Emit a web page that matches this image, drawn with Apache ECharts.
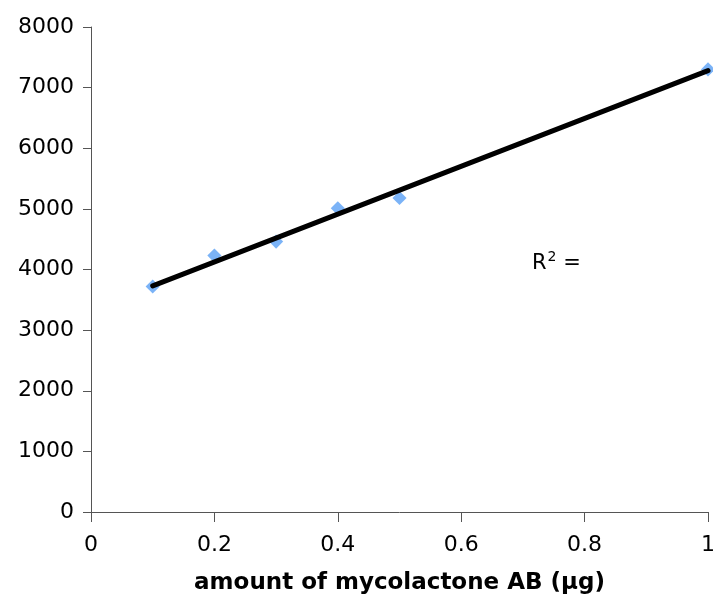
<!DOCTYPE html>
<html>
<head>
<meta charset="utf-8">
<script src="https://cdn.jsdelivr.net/npm/echarts@6/dist/echarts.min.js"></script>
<style>
  html, body { margin: 0; padding: 0; background: #fff; }
  #chart { width: 713px; height: 599px; }
</style>
</head>
<body>
<div id="chart"></div>
<script>
const amounts = [0.1, 0.2, 0.3, 0.4, 0.5, 1.0]
const signal = [3720, 4230, 4460, 5010, 5180, 7300]
// linear trend line end points
const trendX = [0.1, 1.0]
const trendY = [3730, 7280]

const chart = echarts.init(document.getElementById('chart'))
const font = 'DejaVu Sans, Verdana, sans-serif'

chart.setOption({
  backgroundColor: '#fff',
  animation: false,
  grid: { left: 91, right: 5, top: 27, bottom: 87, outerBoundsMode: 'none', containLabel: false },
  xAxis: {
    type: 'value',
    min: 0,
    max: 1,
    interval: 0.2,
    name: 'amount of mycolactone AB (µg)',
    nameLocation: 'middle',
    nameGap: 60,
    nameTextStyle: { fontFamily: font, fontWeight: 'bold', fontSize: 23, color: '#000' },
    axisLine: { lineStyle: { color: '#555', width: 1 } },
    axisTick: { show: true, inside: false, length: 10, lineStyle: { color: '#555' } },
    axisLabel: { margin: 22, fontFamily: font, fontSize: 22, color: '#000', formatter: v => String(v) },
    splitLine: { show: false }
  },
  yAxis: {
    type: 'value',
    min: 0,
    max: 8000,
    interval: 1000,
    axisLine: { show: true, lineStyle: { color: '#555', width: 1 } },
    axisTick: { show: true, inside: false, length: 8, lineStyle: { color: '#555' } },
    axisLabel: { margin: 17, fontFamily: font, fontSize: 22, color: '#000', formatter: v => String(v) },
    splitLine: { show: false }
  },
  graphic: [{
    type: 'text',
    left: 532,
    top: 250,
    style: {
      text: '{r|R}{s|2}{r| =}',
      rich: {
        r: { fontFamily: font, fontSize: 21, fill: '#000', verticalAlign: 'bottom' },
        s: { fontFamily: font, fontSize: 14, fill: '#000', verticalAlign: 'top', padding: [0, 0, 10, 1] }
      }
    }
  }],
  series: [
    {
      name: 'data',
      type: 'scatter',
      symbol: 'rect',
      symbolRotate: 45,
      symbolSize: 10,
      itemStyle: { color: '#5aa0f5' },
      data: amounts.map((x, i) => [x, signal[i]]),
      z: 2
    },
    {
      name: 'trend',
      type: 'line',
      showSymbol: false,
      symbol: 'none',
      lineStyle: { color: '#000', width: 5, cap: 'round' },
      data: trendX.map((x, i) => [x, trendY[i]]),
      z: 3
    }
  ]
})
</script>
</body>
</html>
